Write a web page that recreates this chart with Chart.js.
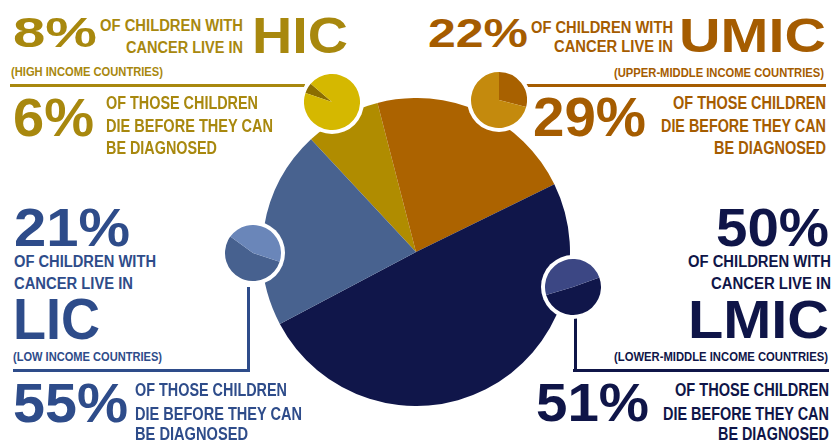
<!DOCTYPE html>
<html>
<head>
<meta charset="utf-8">
<script src="https://cdn.jsdelivr.net/npm/chart.js@4.4.1/dist/chart.umd.min.js"></script>
<style>
  html, body { margin: 0; padding: 0; background: #fff; }
  #stage { position: relative; width: 836px; height: 442px; overflow: hidden; background: #fff; }
  .pie { position: absolute; }
  .ring { position: absolute; background: #fff; border-radius: 50%; }
  .rule { position: absolute; }
  .txt { position: absolute; white-space: nowrap; line-height: 1; font-weight: bold; transform-origin: 0 0;
         font-family: "Liberation Sans", Arial, sans-serif; }
</style>
</head>
<body>
<div id="stage"></div>
<script>
// data
const groups = ['HIC', 'UMIC', 'LMIC', 'LIC'];
const groupNames = ['(HIGH INCOME COUNTRIES)', '(UPPER-MIDDLE INCOME COUNTRIES)',
                    '(LOWER-MIDDLE INCOME COUNTRIES)', '(LOW INCOME COUNTRIES)'];
const shareOfCases = [8, 22, 50, 21];        // % of children with cancer
const diedUndiagnosed = [6, 29, 51, 55];     // % die before diagnosis

// colours
const sliceColors = ['#b08c00', '#ac6300', '#10164a', '#48628f'];
const inkColors   = ['#a8880e', '#a55c00', '#0f1548', '#2e4c8a'];
const smallDark   = ['#8c6e00', '#a86100', '#10164a', '#47618f'];
const smallLight  = ['#d5b800', '#c48a0d', '#3c4784', '#6a86b9'];
const smallRotation = [-71, 0, 70, 108];

const stage = document.getElementById('stage');

function addBox(cls, x, y, w, h, bg) {
  const d = document.createElement('div');
  d.className = cls;
  d.style.left = x + 'px'; d.style.top = y + 'px';
  d.style.width = w + 'px'; d.style.height = h + 'px';
  if (bg) d.style.background = bg;
  stage.appendChild(d);
  return d;
}

function pieCanvas(cx, cy, r) {
  const box = addBox('pie', cx - r, cy - r, r * 2, r * 2);
  const c = document.createElement('canvas');
  box.appendChild(c);
  return c;
}

const baseOpts = {
  responsive: true,
  maintainAspectRatio: false,
  animation: false,
  plugins: { legend: { display: false }, tooltip: { enabled: false } }
};

// main pie
new Chart(pieCanvas(416, 252, 154), {
  type: 'pie',
  data: {
    labels: groups,
    datasets: [{ data: shareOfCases, backgroundColor: sliceColors, borderWidth: 0 }]
  },
  options: { ...baseOpts, rotation: -43 }
});

// connector rules
const rules = [
  [0, 10, 84, 295, 3], [1, 526, 84, 300, 3],
  [3, 13, 369, 237, 3], [3, 247, 287, 3, 85],
  [2, 573, 369, 256, 3], [2, 574, 318, 3, 54]
];
rules.forEach(([g, x, y, w, h]) => addBox('rule', x, y, w, h, inkColors[g]));

// small pies: die before diagnosis
const smallCenters = [[332, 102], [499, 100], [573, 287], [252.5, 253]];
groups.forEach((g, i) => {
  const [cx, cy] = smallCenters[i];
  addBox('ring', cx - 32, cy - 32, 64, 64);
  new Chart(pieCanvas(cx, cy, 28), {
    type: 'pie',
    data: {
      labels: ['die before diagnosis', 'other'],
      datasets: [{
        data: [diedUndiagnosed[i], 100 - diedUndiagnosed[i]],
        backgroundColor: [smallDark[i], smallLight[i]],
        borderWidth: 0
      }]
    },
    options: { ...baseOpts, rotation: smallRotation[i] }
  });
});

// texts
const textFor = (g, kind) => ({
  share: shareOfCases[g] + '%',
  with: 'OF CHILDREN WITH',
  live: 'CANCER LIVE IN',
  code: groups[g],
  name: groupNames[g],
  died: diedUndiagnosed[g] + '%',
  those: 'OF THOSE CHILDREN',
  die: 'DIE BEFORE THEY CAN',
  diag: 'BE DIAGNOSED'
})[kind];

// [group, kind, left, capTop, width, capHeight]
const textLayout = [
  [0, 'share', 13, 17.5, 84, 30], [0, 'with', 100, 20.5, 143, 12], [0, 'live', 126, 42.5, 117, 12],
  [0, 'code', 252, 18, 96, 36], [0, 'name', 11, 68, 152, 8.6], [0, 'died', 13, 98, 81, 38],
  [0, 'those', 106, 97.5, 152, 12.5], [0, 'die', 106, 120, 167, 12.5], [0, 'diag', 106, 142.5, 111, 12.5],

  [1, 'share', 428, 18.5, 100, 29], [1, 'with', 531, 21.5, 142, 11.5], [1, 'live', 554, 41.5, 119, 12],
  [1, 'code', 679, 18.5, 147, 34], [1, 'name', 614, 68.5, 210, 8.6], [1, 'died', 533, 96, 113, 40],
  [1, 'those', 673, 97.5, 153, 12.5], [1, 'die', 661, 120, 165, 12.5], [1, 'diag', 714, 142.5, 112, 12.5],

  [2, 'share', 716, 208.5, 113, 39], [2, 'with', 688, 256.5, 143, 12], [2, 'live', 711, 278.5, 120, 12],
  [2, 'code', 688, 300.5, 141, 39], [2, 'name', 614, 352.5, 214, 8.6], [2, 'died', 536, 383.5, 113, 39],
  [2, 'those', 675, 383.5, 154, 13], [2, 'die', 663, 407, 166, 13], [2, 'diag', 718, 428, 111, 12.5],

  [3, 'share', 14, 208.5, 116, 39], [3, 'with', 14, 256.5, 142, 12], [3, 'live', 14, 278.5, 119, 12],
  [3, 'code', 13, 298.5, 87, 41], [3, 'name', 13, 352.5, 149, 8.6], [3, 'died', 13, 382.5, 115, 40],
  [3, 'those', 135, 383.5, 152, 13], [3, 'die', 135, 407, 167, 13], [3, 'diag', 135, 428, 113, 12.5]
];

textLayout.forEach(([g, kind, x, capTop, w, capH]) => {
  const s = document.createElement('span');
  s.className = 'txt';
  s.textContent = textFor(g, kind);
  const fs = capH / 0.716;
  s.style.fontSize = fs + 'px';
  s.style.color = inkColors[g];
  s.style.left = x + 'px';
  s.style.top = (capTop - 0.1305 * fs) + 'px';
  stage.appendChild(s);
  const measured = s.getBoundingClientRect().width;
  s.style.transform = 'scaleX(' + (w / measured) + ')';
});
</script>
</body>
</html>
